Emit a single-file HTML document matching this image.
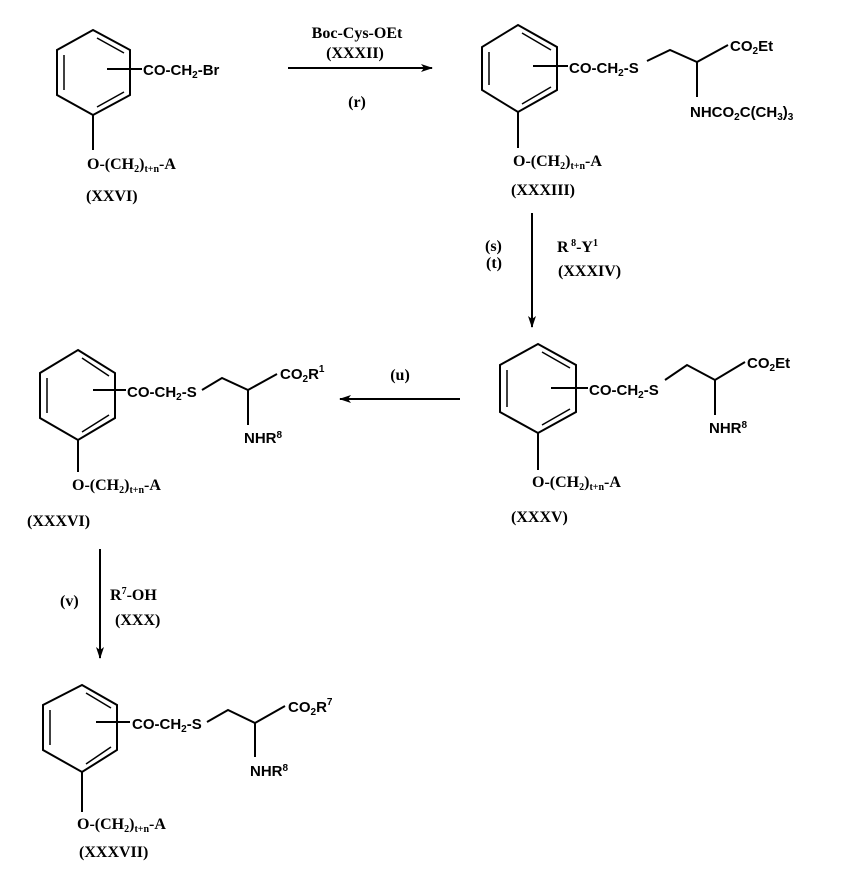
<!DOCTYPE html>
<html><head><meta charset="utf-8"><style>
html,body{margin:0;padding:0;background:#fff}
svg{display:block}
.s{font-family:"Liberation Sans",sans-serif;font-size:15px;font-weight:bold}
.r{font-family:"Liberation Serif",serif;font-size:16px;font-weight:bold}
.sm{font-size:10px}
</style></head><body>
<svg width="852" height="876" viewBox="0 0 852 876" xmlns="http://www.w3.org/2000/svg">
<defs>
<marker id="ah" markerWidth="12" markerHeight="8" refX="11" refY="4" orient="auto" markerUnits="userSpaceOnUse">
<path d="M0,0 L12,4 L0,8 L3,4 Z" fill="#000"/>
</marker>
</defs>
<g stroke="#000" stroke-width="2" fill="none">
<polygon points="93,30 130,50 130,95 93,115 57,95 57,50"/>
<line x1="64" y1="55" x2="64" y2="90" stroke-width="1.5"/>
<line x1="97" y1="38" x2="124" y2="53" stroke-width="1.5"/>
<line x1="124" y1="92" x2="97" y2="107" stroke-width="1.5"/>
<line x1="107" y1="69" x2="142" y2="69"/>
<line x1="93" y1="115" x2="93" y2="150"/>
<line x1="288" y1="68" x2="432" y2="68" marker-end="url(#ah)"/>
<polygon points="518,25 557,47 557,90 518,112 482,90 482,47"/>
<line x1="489" y1="52" x2="489" y2="85" stroke-width="1.5"/>
<line x1="522" y1="33" x2="551" y2="50" stroke-width="1.5"/>
<line x1="551" y1="87" x2="522" y2="104" stroke-width="1.5"/>
<line x1="533" y1="66" x2="568" y2="66"/>
<polyline points="647,61 670,50 697,62 728,45"/>
<line x1="697" y1="62" x2="697" y2="97"/>
<line x1="518" y1="112" x2="518" y2="148"/>
<line x1="532" y1="213" x2="532" y2="327" marker-end="url(#ah)"/>
<polygon points="538,344 576,365 576,412 538,433 500,412 500,365"/>
<line x1="507" y1="370" x2="507" y2="407" stroke-width="1.5"/>
<line x1="542" y1="352" x2="570" y2="368" stroke-width="1.5"/>
<line x1="570" y1="409" x2="542" y2="425" stroke-width="1.5"/>
<line x1="551" y1="388" x2="588" y2="388"/>
<polyline points="665,380 687,365 715,380 745,362"/>
<line x1="715" y1="380" x2="715" y2="415"/>
<line x1="538" y1="433" x2="538" y2="470"/>
<line x1="460" y1="399" x2="340" y2="399" marker-end="url(#ah)"/>
<polygon points="78,350 115,373 115,418 78,440 40,418 40,373"/>
<line x1="47" y1="378" x2="47" y2="413" stroke-width="1.5"/>
<line x1="82" y1="358" x2="109" y2="376" stroke-width="1.5"/>
<line x1="109" y1="415" x2="82" y2="432" stroke-width="1.5"/>
<line x1="93" y1="390" x2="126" y2="390"/>
<polyline points="202,390 222,378 248,390 277,374"/>
<line x1="248" y1="390" x2="248" y2="425"/>
<line x1="78" y1="440" x2="78" y2="472"/>
<line x1="100" y1="549" x2="100" y2="658" marker-end="url(#ah)"/>
<polygon points="82,685 117,705 117,750 82,772 43,750 43,705"/>
<line x1="50" y1="710" x2="50" y2="745" stroke-width="1.5"/>
<line x1="86" y1="693" x2="111" y2="708" stroke-width="1.5"/>
<line x1="111" y1="747" x2="86" y2="764" stroke-width="1.5"/>
<line x1="96" y1="722" x2="130" y2="722"/>
<polyline points="207,722 228,710 255,723 285,706"/>
<line x1="255" y1="723" x2="255" y2="757"/>
<line x1="82" y1="772" x2="82" y2="812"/>
</g>
<g fill="#000">
<text class="s" x="143" y="75">CO-CH<tspan class="sm" dy="3">2</tspan><tspan dy="-3">-Br</tspan></text>
<text class="r" x="87" y="169">O-(CH<tspan class="sm" dy="3">2</tspan><tspan dy="-3">)</tspan><tspan class="sm" dy="3">t+n</tspan><tspan dy="-3">-A</tspan></text>
<text class="r" x="86" y="201" font-size="14">(XXVI)</text>
<text class="r" x="357" y="38" text-anchor="middle" font-size="18">Boc-Cys-OEt</text>
<text class="r" x="355" y="58" text-anchor="middle" font-size="13">(XXXII)</text>
<text class="r" x="357" y="107" text-anchor="middle" font-size="17">(r)</text>
<text class="s" x="569" y="73">CO-CH<tspan class="sm" dy="3">2</tspan><tspan dy="-3">-S</tspan></text>
<text class="s" x="730" y="51">CO<tspan class="sm" dy="3">2</tspan><tspan dy="-3">Et</tspan></text>
<text class="s" x="690" y="117">NHCO<tspan class="sm" dy="3">2</tspan><tspan dy="-3">C(CH</tspan><tspan class="sm" dy="3">3</tspan><tspan dy="-3">)</tspan><tspan class="sm" dy="3">3</tspan></text>
<text class="r" x="513" y="166">O-(CH<tspan class="sm" dy="3">2</tspan><tspan dy="-3">)</tspan><tspan class="sm" dy="3">t+n</tspan><tspan dy="-3">-A</tspan></text>
<text class="r" x="511" y="195" font-size="14">(XXXIII)</text>
<text class="r" x="485" y="251" font-size="15">(s)</text>
<text class="r" x="486" y="268" font-size="15">(t)</text>
<text class="r" x="557" y="252">R<tspan class="sm" dy="-6"> 8</tspan><tspan dy="6">-Y</tspan><tspan class="sm" dy="-6">1</tspan></text>
<text class="r" x="558" y="276" font-size="13">(XXXIV)</text>
<text class="s" x="589" y="395">CO-CH<tspan class="sm" dy="3">2</tspan><tspan dy="-3">-S</tspan></text>
<text class="s" x="747" y="368">CO<tspan class="sm" dy="3">2</tspan><tspan dy="-3">Et</tspan></text>
<text class="s" x="709" y="433">NHR<tspan class="sm" dy="-5">8</tspan></text>
<text class="r" x="532" y="487">O-(CH<tspan class="sm" dy="3">2</tspan><tspan dy="-3">)</tspan><tspan class="sm" dy="3">t+n</tspan><tspan dy="-3">-A</tspan></text>
<text class="r" x="511" y="522" font-size="14">(XXXV)</text>
<text class="r" x="400" y="380" text-anchor="middle" font-size="17">(u)</text>
<text class="s" x="127" y="397">CO-CH<tspan class="sm" dy="3">2</tspan><tspan dy="-3">-S</tspan></text>
<text class="s" x="280" y="379">CO<tspan class="sm" dy="3">2</tspan><tspan dy="-3">R</tspan><tspan class="sm" dy="-7">1</tspan></text>
<text class="s" x="244" y="443">NHR<tspan class="sm" dy="-5">8</tspan></text>
<text class="r" x="72" y="490">O-(CH<tspan class="sm" dy="3">2</tspan><tspan dy="-3">)</tspan><tspan class="sm" dy="3">t+n</tspan><tspan dy="-3">-A</tspan></text>
<text class="r" x="27" y="526" font-size="14">(XXXVI)</text>
<text class="r" x="60" y="606" font-size="17">(v)</text>
<text class="r" x="110" y="600">R<tspan class="sm" dy="-6">7</tspan><tspan dy="6">-OH</tspan></text>
<text class="r" x="115" y="625" font-size="13">(XXX)</text>
<text class="s" x="132" y="729">CO-CH<tspan class="sm" dy="3">2</tspan><tspan dy="-3">-S</tspan></text>
<text class="s" x="288" y="712">CO<tspan class="sm" dy="3">2</tspan><tspan dy="-3">R</tspan><tspan class="sm" dy="-7">7</tspan></text>
<text class="s" x="250" y="776">NHR<tspan class="sm" dy="-5">8</tspan></text>
<text class="r" x="77" y="829">O-(CH<tspan class="sm" dy="3">2</tspan><tspan dy="-3">)</tspan><tspan class="sm" dy="3">t+n</tspan><tspan dy="-3">-A</tspan></text>
<text class="r" x="79" y="857" font-size="14">(XXXVII)</text>
</g>
</svg>
</body></html>
